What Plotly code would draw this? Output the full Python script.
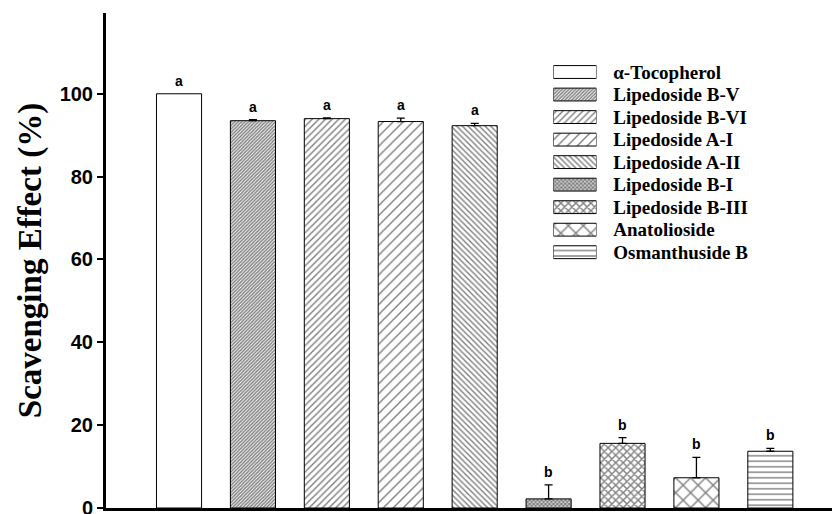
import plotly.graph_objects as go

names = ["α-Tocopherol", "Lipedoside B-V", "Lipedoside B-VI", "Lipedoside A-I",
         "Lipedoside A-II", "Lipedoside B-I", "Lipedoside B-III", "Anatolioside",
         "Osmanthuside B"]
values = [100.0, 93.5, 94.0, 93.3, 92.3, 2.2, 15.6, 7.3, 13.7]
errors = [0.0, 0.25, 0.2, 0.8, 0.55, 3.4, 1.4, 4.9, 0.7]
letters = ["a", "a", "a", "a", "a", "b", "b", "b", "b"]
shapes_ = ["", "/", "/", "/", "\\", "x", "x", "x", "-"]
sizes = [8, 2.4, 4.7, 7.0, 4.0, 2.8, 5.3, 10.6, 5.5]
y_ticks = [0, 20, 40, 60, 80, 100]
swatch_len = [1] * len(names)


def solidity(shape, size):
    lw = 1.4
    if shape == "x":
        return min(0.9, 1 - (1 - lw / size) ** 2)
    return min(0.9, lw / size)


def pattern(i):
    return dict(shape=shapes_[i], size=sizes[i], solidity=solidity(shapes_[i], sizes[i]),
                fgcolor="black", bgcolor="white", fillmode="overlay")


fig = go.Figure()
for i, n in enumerate(names):
    fig.add_trace(go.Bar(
        x=[i], y=[values[i]], name=n, width=0.61, showlegend=False,
        marker=dict(color="white", line=dict(color="black", width=1), pattern=pattern(i)),
        error_y=dict(type="data", array=[errors[i]], arrayminus=[0], symmetric=False,
                     visible=errors[i] > 0, color="black", thickness=1.3, width=4),
    ))
    # legend swatch drawn on a small auxiliary axis pair
    fig.add_trace(go.Bar(
        x=[swatch_len[i]], y=[n], orientation="h", width=0.57, showlegend=False,
        xaxis="x2", yaxis="y2", hoverinfo="skip",
        marker=dict(color="white", line=dict(color="black", width=1), pattern=pattern(i)),
    ))

for i, l in enumerate(letters):
    fig.add_annotation(x=i, y=values[i] + errors[i], text=l, showarrow=False,
                       yanchor="bottom", yshift=3,
                       font=dict(family="Liberation Sans", size=14, color="black", weight="bold"))

fig.update_layout(
    width=840, height=514,
    margin=dict(l=98, r=3, t=5, b=8),
    plot_bgcolor="white", paper_bgcolor="white",
    showlegend=False,
    xaxis=dict(range=[-0.988, 9.01], showticklabels=False, ticks="",
               showline=True, linecolor="black", linewidth=3, showgrid=False, zeroline=False),
    yaxis=dict(range=[0, 119.5], tickvals=y_ticks, ticks="outside", ticklen=6,
               tickwidth=2, tickcolor="black", showline=True, linecolor="black",
               linewidth=3, showgrid=False, zeroline=False, ticklabeloverflow="allow",
               tickfont=dict(family="Liberation Sans", size=20, color="black", weight="bold"),
               title=dict(text="Scavenging Effect (%)", standoff=9,
                          font=dict(family="Liberation Serif", size=33, color="black",
                                    weight="bold"))),
    xaxis2=dict(domain=[0.6054, 0.6637], anchor="y2", range=[0, 1], visible=False),
    yaxis2=dict(domain=[0.494, 0.9035], anchor="x2", side="right", autorange="reversed",
                type="category", tickmode="array", tickvals=names, ticktext=names,
                showline=False, showgrid=False, zeroline=False,
                ticks="outside", ticklen=12, tickcolor="rgba(0,0,0,0)",
                tickfont=dict(family="Liberation Serif", size=19, color="black", weight="bold")),
)

fig.write_html("out.html")
